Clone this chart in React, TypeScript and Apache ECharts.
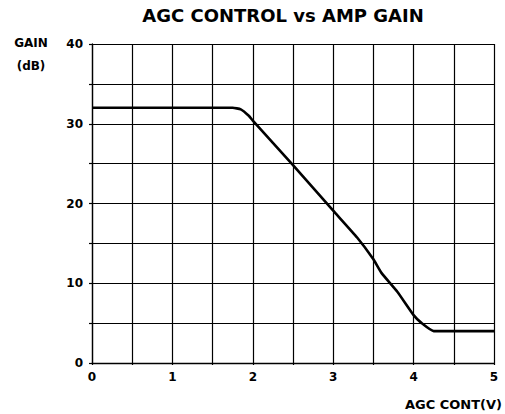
import React, { useEffect, useRef } from "react";
import * as echarts from "echarts";

const gainX = [0, 1.75, 1.85, 1.95, 2.0, 2.5, 3.0, 3.3, 3.5, 3.6, 3.8, 4.0, 4.1, 4.25, 5];
const gainY = [32, 32, 31.8, 31.0, 30.4, 24.8, 19.1, 15.7, 13.0, 11.3, 8.9, 6.0, 5.0, 4.0, 4.0];
const xTickLabels = ["0", "1", "2", "3", "4", "5"];
const yTickLabels = ["0", "10", "20", "30", "40"];
const titleText = "AGC CONTROL vs AMP GAIN";
const xName = "AGC CONT(V)";
const yNameLines = ["GAIN", "(dB)"];

const FONT = "'DejaVu Sans', 'Liberation Sans', Arial, sans-serif";

export default function App() {
  const ref = useRef<HTMLDivElement>(null);
  useEffect(() => {
    if (!ref.current) return;
    const chart = echarts.init(ref.current, undefined, { renderer: "svg" });
    const data = gainX.map((x, i) => [x, gainY[i]]);
    chart.setOption({
      animation: false,
      backgroundColor: "#fff",
      grid: { left: 92, right: 11, top: 44, bottom: 51, containLabel: false },
      xAxis: {
        type: "value",
        min: 0,
        max: 5,
        interval: 0.5,
        axisLine: { show: true, lineStyle: { color: "#000", width: 1.3 } },
        axisTick: { show: true, length: 2, lineStyle: { color: "#000", width: 1.2 } },
        splitLine: { show: true, lineStyle: { color: "#000", width: 1.2 } },
        axisLabel: {
          margin: 8,
          color: "#000",
          fontFamily: FONT,
          fontWeight: "bold",
          fontSize: 12,
          formatter: (v: number) => {
            const s = String(v);
            return xTickLabels.includes(s) ? s : "";
          },
        },
      },
      yAxis: {
        type: "value",
        min: 0,
        max: 40,
        interval: 5,
        axisLine: { show: true, lineStyle: { color: "#000", width: 1.3 } },
        axisTick: { show: true, length: 3, lineStyle: { color: "#000", width: 1.2 } },
        splitLine: { show: true, lineStyle: { color: "#000", width: 1.2 } },
        axisLabel: {
          margin: 9,
          color: "#000",
          fontFamily: FONT,
          fontWeight: "bold",
          fontSize: 12,
          padding: [0, 0, 4, 0],
          formatter: (v: number) => {
            const s = String(v);
            return yTickLabels.includes(s) ? s : "";
          },
        },
      },
      series: [
        {
          type: "line",
          data,
          showSymbol: false,
          smooth: 0.15,
          lineStyle: { color: "#000", width: 2.6 },
          z: 5,
        },
      ],
      graphic: [
        {
          type: "text",
          x: 283,
          y: 15,
          style: {
            text: titleText,
            textAlign: "center",
            textVerticalAlign: "middle",
            font: `bold 18px ${FONT}`,
            fill: "#000",
          },
        },
        {
          type: "text",
          x: 31,
          y: 43,
          style: {
            text: yNameLines[0],
            textAlign: "center",
            textVerticalAlign: "middle",
            font: `bold 12px ${FONT}`,
            fill: "#000",
          },
        },
        {
          type: "text",
          x: 31,
          y: 66,
          style: {
            text: yNameLines[1],
            textAlign: "center",
            textVerticalAlign: "middle",
            font: `bold 12px ${FONT}`,
            fill: "#000",
          },
        },
        {
          type: "text",
          x: 502,
          y: 404,
          style: {
            text: xName,
            textAlign: "right",
            textVerticalAlign: "middle",
            font: `bold 13px ${FONT}`,
            fill: "#000",
          },
        },
      ],
    });
    return () => chart.dispose();
  }, []);
  return (
    <div
      ref={ref}
      style={{ position: "fixed", left: 0, top: 0, width: 505, height: 414, background: "#fff" }}
    />
  );
}
